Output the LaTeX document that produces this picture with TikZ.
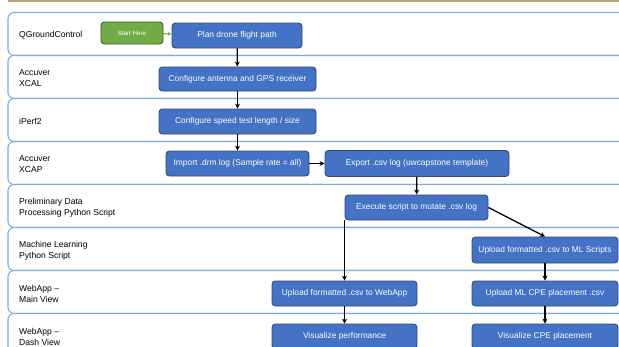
\documentclass[tikz,border=0pt]{standalone}
\usepackage{fontspec}
\setmainfont{Liberation Sans}
\usetikzlibrary{arrows.meta}
\definecolor{boxblue}{HTML}{4472C4}
\definecolor{boxedge}{HTML}{2F4A7F}
\definecolor{lanecol}{HTML}{7AAEDD}
\definecolor{tanbar}{HTML}{B9A776}
\definecolor{startgreen}{HTML}{70AD47}
\definecolor{startedge}{HTML}{3B5A2A}
\tikzset{
  lane/.style={draw=lanecol, line width=1.1pt, rounded corners=6pt, fill=white},
  lanelabel/.style={anchor=west, align=left, font=\fontsize{8.6}{11}\selectfont, text=black, inner sep=0pt},
  stepbox/.style={draw=boxedge, fill=boxblue, line width=0.9pt, rounded corners=3.5pt,
    text=white, font=\fontsize{8.4}{10}\selectfont, inner sep=0pt, minimum height=25pt},
  startbox/.style={draw=startedge, fill=startgreen, line width=0.9pt, rounded corners=3.5pt,
    text=white, font=\fontsize{6.2}{7}\selectfont, inner sep=0pt, minimum height=22pt, minimum width=62pt},
  arr/.style={draw=black, line width=1.3pt, -{Stealth[length=5pt,width=5pt]}},
  garr/.style={draw=startgreen, line width=1.1pt, -{Stealth[length=4pt,width=4pt]}}
}
\begin{document}
\begin{tikzpicture}[x=1pt,y=-1pt]
\useasboundingbox (0,0) rectangle (619,346);
\fill[white] (0,0) rectangle (619,346);
\fill[tanbar] (8,0) rectangle (640,2);
% lanes
\foreach \t in {12.5,55.5,98.5,141.5,184.5,227.5,270.5,313.5}{
  \draw[lane] (8,\t) rectangle (660,\t+43);
}
\node[lanelabel] (l1) at (19,35.5) {QGroundControl};
\node[lanelabel] (l2) at (19,78.5) {Accuver\\XCAL};
\node[lanelabel] (l3) at (19,121.5) {iPerf2};
\node[lanelabel] (l4) at (19,164.5) {Accuver\\XCAP};
\node[lanelabel] (l5) at (19,207.5) {Preliminary Data\\Processing Python Script};
\node[lanelabel] (l6) at (19,250.5) {Machine Learning\\Python Script};
\node[lanelabel] (l7) at (19,293.5) {WebApp --\\Main View};
\node[lanelabel] (l8) at (19,336.5) {WebApp --\\Dash View};
% boxes
\node[startbox] (start) at (132,33) {Start Here};
\node[stepbox, minimum width=130pt] (plan) at (237,35.5) {Plan drone flight path};
\node[stepbox, minimum width=157pt, minimum height=24pt] (ant) at (237.5,79) {Configure antenna and GPS receiver};
\node[stepbox, minimum width=157pt] (speed) at (237.5,121.5) {Configure speed test length / size};
\node[stepbox, minimum width=143pt] (imp) at (237.5,163.5) {Import .drm log (Sample rate = all)};
\node[stepbox, minimum width=184pt, minimum height=26pt] (exp) at (417,163.5) {Export .csv log (uwcapstone template)};
\node[stepbox, minimum width=143pt] (exe) at (416.5,207.5) {Execute script to mutate .csv log};
\node[stepbox, minimum width=146pt, minimum height=26pt] (ml) at (545,250) {Upload formatted .csv to ML Scripts};
\node[stepbox, minimum width=145pt] (web) at (344.5,293.5) {Upload formatted .csv to WebApp};
\node[stepbox, minimum width=146pt] (cpe) at (545,293.5) {Upload ML CPE placement .csv};
\node[stepbox, minimum width=145pt] (visp) at (344.5,336.5) {Visualize performance};
\node[stepbox, minimum width=146pt] (visc) at (545,336.5) {Visualize CPE placement};
% connectors
\draw[garr] (start) -- (plan);
\draw[arr] (plan) -- (ant);
\draw[arr] (ant) -- (speed);
\draw[arr] (speed) -- (imp);
\draw[arr] (imp) -- (exp);
\draw[arr] (exp) -- (exe);
\draw[arr] (exe.south -| web.north) -- (web.north);
\draw[arr] (exe.east) -- (ml.north);
\draw[arr] (ml) -- (cpe);
\draw[arr] (cpe) -- (visc);
\draw[arr] (web) -- (visp);
\end{tikzpicture}
\end{document}
